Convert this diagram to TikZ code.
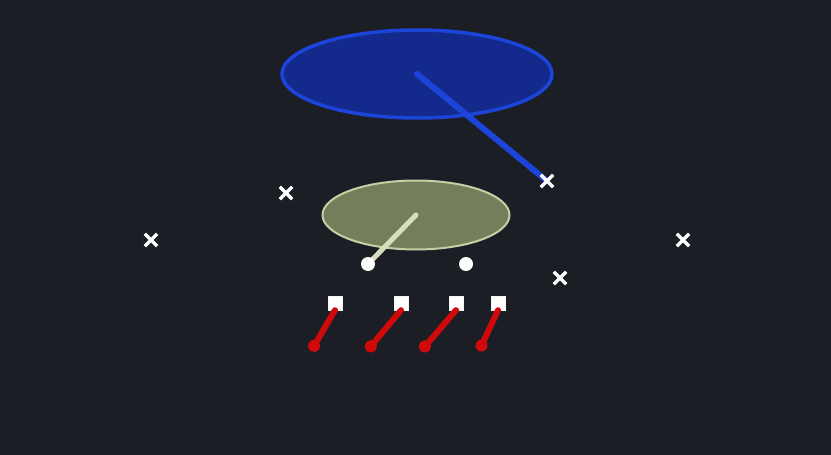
\documentclass[tikz,border=0pt]{standalone}
\usetikzlibrary{shapes.geometric,shapes.misc,arrows.meta}
\definecolor{pitch}{HTML}{1B1E24}
\definecolor{deepfill}{HTML}{132A8C}
\definecolor{deepline}{HTML}{1C44D8}
\definecolor{flatfill}{HTML}{737F5A}
\definecolor{flatline}{HTML}{C9CFA4}
\definecolor{routered}{HTML}{D00A0A}
\tikzset{zone/.style = {ellipse, inner sep=0pt}}
\tikzset{defender/.style = {cross out, draw=white, line width=3.4pt,
  minimum size=9pt, inner sep=0pt}}
\tikzset{receiver/.style = {rectangle, fill=white, draw=white!80!flatline,
  minimum size=14pt, inner sep=0pt}}
\tikzset{back/.style = {circle, fill=white, minimum size=14pt, inner sep=0pt}}
\tikzset{route/.style = {draw=routered, line width=6pt, line cap=round,
  -{Circle[length=12pt]}}}

\begin{document}
\begin{tikzpicture}[x=1pt, y=-1pt]
  \fill[pitch] (0,0) rectangle (831,455);
  \useasboundingbox (0,0) rectangle (831,455);
  % zones
  \node[zone, fill=deepfill, draw=deepline, line width=3.5pt,
    minimum width=270pt, minimum height=88pt] (deep) at (417,74) {};
  \node[zone, fill=flatfill, draw=flatline, line width=2pt,
    minimum width=187pt, minimum height=69pt] (flat) at (416,215) {};
  % drop points
  \coordinate (deepdrop) at (547,181);
  \coordinate (flatdrop) at (368,264);
  \draw[deepline, line width=6pt, line cap=round] (deep.center) -- (deepdrop);
  \draw[flatline!70!white, line width=5pt, line cap=round]
    (flat.center) -- (flatdrop);
  % defenders
  \node[defender] (d1) at (151,240) {};
  \node[defender] (d2) at (286,193) {};
  \node[defender] (d3) at (deepdrop) {};
  \node[defender] (d4) at (560,278) {};
  \node[defender] (d5) at (683,240) {};
  % backs
  \node[back] (b1) at (flatdrop) {};
  \node[back] (b2) at (466,264) {};
  % receivers
  \foreach \n/\x in {1/335, 2/401, 3/456, 4/498}
    \node[receiver] (r\n) at (\x,303) {};
  \coordinate (e1) at (311,351);
  \coordinate (e2) at (367,351);
  \coordinate (e3) at (421,351);
  \coordinate (e4) at (479,351);
  \foreach \n in {1,...,4}
    \draw[route] (r\n.south) -- (e\n);
\end{tikzpicture}
\end{document}
